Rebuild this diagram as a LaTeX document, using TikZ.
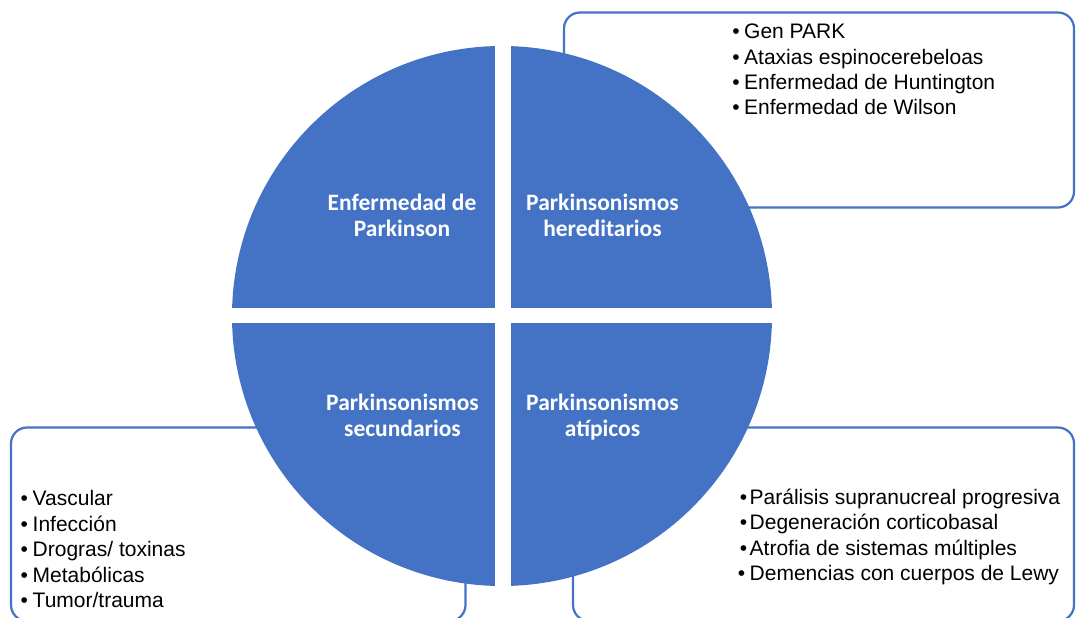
\documentclass[tikz,border=0pt]{standalone}
\usepackage{fontspec}
\setmainfont{Liberation Sans}
\newfontfamily\calibri{Carlito}
\definecolor{sablue}{HTML}{4472C4}
\tikzset{
  listbox/.style={draw=sablue, line width=2.2pt, fill=white, rounded corners=16pt},
  qlabel/.style={anchor=base, inner sep=0pt, text=white, font=\calibri\bfseries\fontsize{23.5}{26}\selectfont},
  item/.style={anchor=base west, inner sep=0pt, text=black, font=\fontsize{21}{25}\selectfont},
}
\newcommand{\tbul}{\llap{\textbullet\kern4.6pt}}
\newcommand{\rbul}{\llap{\textbullet\kern2.6pt}}
\newcommand{\lbul}{\llap{\textbullet\kern4.6pt}}
\begin{document}
\begin{tikzpicture}[x=1pt,y=-1pt]
\useasboundingbox (0,0) rectangle (1076,618);
\clip (0,0) rectangle (1076,618);
% boxes
\draw[listbox] (564,12.5) rectangle (1074,207.5);
\draw[listbox] (11,427.5) rectangle (465.5,621);
\draw[listbox] (573,427.5) rectangle (1074,621);
% circle
\fill[sablue] (502,316) circle[radius=270pt];
\fill[white] (495,40) rectangle (511,592);
\fill[white] (225,308) rectangle (780,323);
% quadrant labels
\node[qlabel] (ep1) at (402,210.5) {Enfermedad de};
\node[qlabel] (ep2) at (402,236.5) {Parkinson};
\node[qlabel] (ph1) at (602.5,210.5) {Parkinsonismos};
\node[qlabel] (ph2) at (602.5,236.5) {hereditarios};
\node[qlabel] (ps1) at (402.5,410.5) {Parkinsonismos};
\node[qlabel] (ps2) at (402.5,436.5) {secundarios};
\node[qlabel] (pa1) at (602.5,410.5) {Parkinsonismos};
\node[qlabel] (pa2) at (602.5,436.5) {atípicos};
% hereditarios list
\node[item] (h1) at (744,39) {\tbul Gen PARK};
\node[item] (h2) at (744,64.3) {\tbul Ataxias espinocerebeloas};
\node[item] (h3) at (744,89.6) {\tbul Enfermedad de Huntington};
\node[item] (h4) at (744,114.9) {\tbul Enfermedad de Wilson};
% secundarios list
\node[item] (s1) at (32.5,505.5) {\lbul Vascular};
\node[item] (s2) at (32.5,531) {\lbul Infección};
\node[item] (s3) at (32.5,556.5) {\lbul Drogras/ toxinas};
\node[item] (s4) at (32.5,582) {\lbul Metabólicas};
\node[item] (s5) at (32.5,607.5) {\lbul Tumor/trauma};
% atipicos list
\node[item] (a1) at (749.5,504.5) {\rbul Parálisis supranucreal progresiva};
\node[item] (a2) at (749.5,529.8) {\rbul Degeneración corticobasal};
\node[item] (a3) at (749.5,555.1) {\rbul Atrofia de sistemas múltiples};
\node[item] (a4) at (749.5,580.4) {\lbul Demencias con cuerpos de Lewy};
\end{tikzpicture}
\end{document}
